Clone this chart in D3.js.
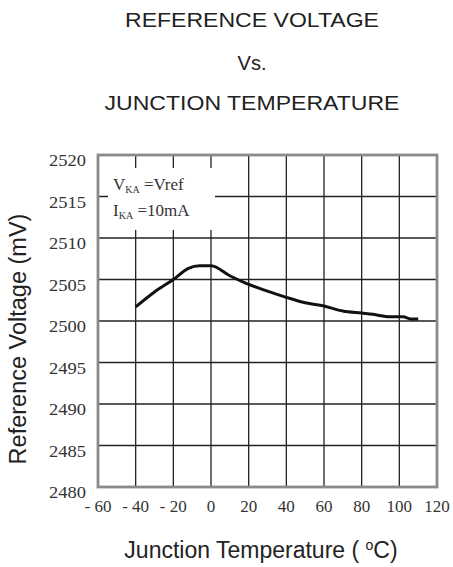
<!DOCTYPE html>
<html lang='en'>
    <head>
        <meta charset="utf-8">
        <script src="https://d3js.org/d3.v7.min.js"></script>
        <style>
            *{
                margin:0;
                padding:0
            }
            body{
                background:#fff;
            }
            .title{
                font-family:'Liberation Sans',Arial,sans-serif;
                fill:#222;
            }
            .tick-label{
                font-family:'Liberation Serif','Times New Roman',serif;
                fill:#333;
            }
        </style>
    </head>
    <body>
        <script>
            // chart values
            const titleLines=['REFERENCE VOLTAGE','Vs.','JUNCTION TEMPERATURE'];
            const xTicks=[-60,-40,-20,0,20,40,60,80,100,120];
            const xTickLabels=['- 60','- 40','- 20','0','20','40','60','80','100','120'];
            const yTicks=[2480,2485,2490,2495,2500,2505,2510,2515,2520];
            const temps=[-40,-30,-20,-12,-6,0,10,18,30,40,50,60,70,80,86,95,102,106,110];
            const vref=[2501.7,2503.5,2505.0,2506.35,2506.65,2506.65,2505.45,2504.6,2503.6,2502.85,2502.2,2501.8,2501.2,2500.95,2500.8,2500.5,2500.5,2500.25,2500.25];

            const width=453;
            const height=567;
            const margin={top:155,right:16,bottom:80,left:98};

            const svg=d3.select('body').append('svg')
                        .attr('width',width)
                        .attr('height',height);

            const xScale=d3.scaleLinear()
                           .domain([-60,120])
                           .range([margin.left,width-margin.right]);
            const yScale=d3.scaleLinear()
                           .domain([2480,2520])
                           .range([height-margin.bottom,margin.top]);

            // titles
            const titleY=[27,70,110];
            const titleLen=[254,0,295];
            svg.selectAll('text.title')
               .data(titleLines)
               .enter()
               .append('text')
               .attr('class','title')
               .attr('x',252)
               .attr('y',(d,i)=>titleY[i])
               .attr('text-anchor','middle')
               .attr('font-size',20)
               .each(function(d,i){
                   if(titleLen[i]) d3.select(this).attr('textLength',titleLen[i]).attr('lengthAdjust','spacingAndGlyphs');
               })
               .text(d=>d);

            // grid
            const grid=svg.append('g').attr('stroke','#222').attr('stroke-width',1.3);
            grid.selectAll('line.v')
                .data(xTicks.slice(1,-1))
                .enter()
                .append('line')
                .attr('x1',d=>xScale(d))
                .attr('x2',d=>xScale(d))
                .attr('y1',yScale(2520))
                .attr('y2',yScale(2480));
            grid.selectAll('line.h')
                .data(yTicks.slice(1,-1))
                .enter()
                .append('line')
                .attr('x1',xScale(-60))
                .attr('x2',xScale(120))
                .attr('y1',d=>yScale(d))
                .attr('y2',d=>yScale(d));

            // frame
            svg.append('rect')
               .attr('x',xScale(-60))
               .attr('y',yScale(2520))
               .attr('width',xScale(120)-xScale(-60))
               .attr('height',yScale(2480)-yScale(2520))
               .attr('fill','none')
               .attr('stroke','#8a8a8a')
               .attr('stroke-width',2.8);

            // condition box
            svg.append('rect')
               .attr('x',108)
               .attr('y',168)
               .attr('width',107)
               .attr('height',62)
               .attr('fill','#fff');
            const l1=svg.append('text')
                        .attr('class','tick-label')
                        .attr('font-size',17)
                        .attr('x',113)
                        .attr('y',190);
            l1.append('tspan').text('V');
            l1.append('tspan').attr('font-size',10).attr('dy',3).text('KA');
            l1.append('tspan').attr('dy',-3).text(' =Vref');
            const l2=svg.append('text')
                        .attr('class','tick-label')
                        .attr('font-size',17)
                        .attr('x',113)
                        .attr('y',216);
            l2.append('tspan').text('I');
            l2.append('tspan').attr('font-size',10).attr('dy',3).text('KA');
            l2.append('tspan').attr('dy',-3).text(' =10mA');

            // curve
            const line=d3.line()
                         .x((d,i)=>xScale(temps[i]))
                         .y(d=>yScale(d))
                         .curve(d3.curveMonotoneX);
            svg.append('path')
               .datum(vref)
               .attr('d',line)
               .attr('fill','none')
               .attr('stroke','#111')
               .attr('stroke-width',3)
               .attr('stroke-linejoin','round');

            // y tick labels
            svg.selectAll('text.ylab')
               .data(yTicks)
               .enter()
               .append('text')
               .attr('class','tick-label')
               .attr('x',86)
               .attr('y',d=>yScale(d)+11)
               .attr('text-anchor','end')
               .attr('font-size',17)
               .attr('textLength',37)
               .attr('lengthAdjust','spacingAndGlyphs')
               .text(d=>d);

            // x tick labels
            svg.selectAll('text.xlab')
               .data(xTicks)
               .enter()
               .append('text')
               .attr('class','tick-label')
               .attr('x',d=>xScale(d))
               .attr('y',512)
               .attr('text-anchor','middle')
               .attr('font-size',17)
               .text((d,i)=>xTickLabels[i]);

            // axis titles
            const xt=svg.append('text')
                        .attr('class','title')
                        .attr('x',261)
                        .attr('y',558)
                        .attr('text-anchor','middle')
                        .attr('font-size',23);
            xt.append('tspan').text('Junction Temperature ( ');
            xt.append('tspan').attr('font-size',14).attr('dy',-8).text('o');
            xt.append('tspan').attr('dy',8).text('C)');

            svg.append('text')
               .attr('class','title')
               .attr('transform','translate(26,339) rotate(-90)')
               .attr('text-anchor','middle')
               .attr('font-size',23.5)
               .text('Reference Voltage (mV)');
        </script>
    </body>
</html>
